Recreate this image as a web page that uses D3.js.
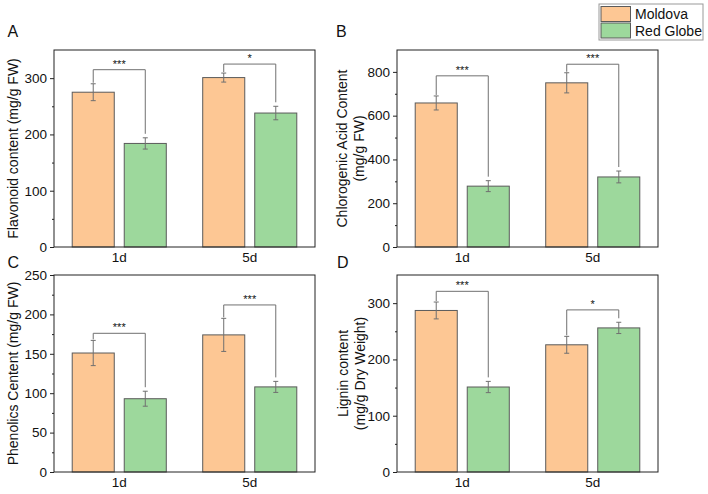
<!DOCTYPE html>
<html lang="en">
<head>
<meta charset="UTF-8">
<title>Grape phenolics</title>
<script src="https://d3js.org/d3.v7.min.js"></script>
<style>
  body { margin: 0; background: #fff; }
  svg text { font-family: Arial, "Liberation Sans", sans-serif; fill: #111; }
</style>
</head>
<body>
<svg width="708" height="494"></svg>
<script>
const days = ['1d', '5d'];
const cultivars = ['Moldova', 'Red Globe'];
const colors = ['#fdc794', '#9dd89c'];

// per panel: [Moldova 1d, 5d], [Red Globe 1d, 5d]
const flavMold = [275, 301], flavRed = [184, 238];
const flavMoldErr = [15, 8], flavRedErr = [10, 12];
const chloMold = [658, 750], chloRed = [278, 320];
const chloMoldErr = [32, 46], chloRedErr = [25, 27];
const phenMold = [151, 174], phenRed = [93, 108];
const phenMoldErr = [16, 21], phenRedErr = [9.5, 7];
const lignMold = [287, 226], lignRed = [151, 256];
const lignMoldErr = [15, 15], lignRedErr = [10, 10];

const flavSig = ['***', '*'], flavBracket = [315, 325];
const chloSig = ['***', '***'], chloBracket = [782, 835];
const phenSig = ['***', '***'], phenBracket = [176, 212];
const lignSig = ['***', '*'], lignBracket = [321, 288];

const panels = [
  { letter: 'A', label: ['Flavonoid content (mg/g FW)'], max: 350, major: 100, minor: 50,
    mold: flavMold, red: flavRed, moldErr: flavMoldErr, redErr: flavRedErr, sig: flavSig, br: flavBracket,
    x0: 54, y0: 50, lx: 18, ly: 37 },
  { letter: 'B', label: ['Chlorogenic Acid Content', '(mg/g FW)'], max: 900, major: 200, minor: 100,
    mold: chloMold, red: chloRed, moldErr: chloMoldErr, redErr: chloRedErr, sig: chloSig, br: chloBracket,
    x0: 397, y0: 50, lx: 346.5, ly: 37 },
  { letter: 'C', label: ['Phenolics Centent (mg/g FW)'], max: 250, major: 50, minor: 25,
    mold: phenMold, red: phenRed, moldErr: phenMoldErr, redErr: phenRedErr, sig: phenSig, br: phenBracket,
    x0: 54, y0: 275, lx: 18, ly: 268 },
  { letter: 'D', label: ['Lignin content', '(mg/g Dry Weight)'], max: 350, major: 100, minor: 50,
    mold: lignMold, red: lignRed, moldErr: lignMoldErr, redErr: lignRedErr, sig: lignSig, br: lignBracket,
    x0: 397, y0: 275, lx: 347.5, ly: 268 }
];

const svg = d3.select('svg');
const pw = 261, ph = 197;
const font = 'Arial, "Liberation Sans", sans-serif';

panels.forEach(p => {
  const g = svg.append('g');
  const x = d3.scaleBand().domain(days).range([p.x0, p.x0 + pw]).padding(0);
  const sub = d3.scaleBand().domain(cultivars).range([0, x.bandwidth()]).paddingInner(0.192).paddingOuter(0.35);
  const y = d3.scaleLinear().domain([0, p.max]).range([p.y0 + ph, p.y0]);

  const rows = [];
  days.forEach((d, i) => {
    rows.push({ day: d, cv: cultivars[0], v: p.mold[i], e: p.moldErr[i], c: colors[0] });
    rows.push({ day: d, cv: cultivars[1], v: p.red[i], e: p.redErr[i], c: colors[1] });
  });
  const cx = r => x(r.day) + sub(r.cv) + sub.bandwidth() / 2;

  g.selectAll('rect.bar').data(rows).join('rect')
    .attr('class', 'bar')
    .attr('x', r => x(r.day) + sub(r.cv))
    .attr('y', r => y(r.v))
    .attr('width', sub.bandwidth())
    .attr('height', r => y(0) - y(r.v))
    .attr('fill', r => r.c)
    .attr('stroke', '#5a5a5a')
    .attr('stroke-width', 1);

  // error bars
  const eb = g.selectAll('g.err').data(rows).join('g').attr('class', 'err')
    .attr('stroke', '#707070').attr('stroke-width', 1);
  eb.append('line').attr('x1', cx).attr('x2', cx)
    .attr('y1', r => y(r.v + r.e)).attr('y2', r => y(r.v - r.e));
  eb.append('line').attr('x1', r => cx(r) - 2.5).attr('x2', r => cx(r) + 2.5)
    .attr('y1', r => y(r.v + r.e)).attr('y2', r => y(r.v + r.e));
  eb.append('line').attr('x1', r => cx(r) - 2.5).attr('x2', r => cx(r) + 2.5)
    .attr('y1', r => y(r.v - r.e)).attr('y2', r => y(r.v - r.e));

  // significance brackets
  days.forEach((d, i) => {
    const a = rows[i * 2], b = rows[i * 2 + 1];
    const top = y(p.br[i]);
    g.append('path')
      .attr('d', `M${cx(a)},${y(a.v + a.e) - 1}V${top}H${cx(b)}V${y(b.v + b.e) - 4}`)
      .attr('fill', 'none').attr('stroke', '#707070').attr('stroke-width', 1);
    g.append('text')
      .attr('x', (cx(a) + cx(b)) / 2).attr('y', top - 2)
      .attr('text-anchor', 'middle').attr('font-size', 11)
      .text(p.sig[i]);
  });

  // axes
  const yAxis = g.append('g').attr('transform', `translate(${p.x0},0)`)
    .call(d3.axisLeft(y).tickValues(d3.range(0, p.max + 1, p.major)).tickSize(4).tickSizeOuter(0).tickPadding(3));
  yAxis.selectAll('text').attr('font-size', 13.5).style('font-family', font).attr('fill', '#111');
  yAxis.selectAll('line').attr('stroke', '#222');
  yAxis.select('.domain').remove();
  g.append('g').attr('transform', `translate(${p.x0},0)`)
    .call(d3.axisLeft(y).tickValues(d3.range(p.minor, p.max, p.major)).tickSize(2).tickFormat(''))
    .call(a => a.selectAll('line').attr('stroke', '#222'))
    .select('.domain').remove();

  const xAxis = g.append('g').attr('transform', `translate(0,${p.y0 + ph})`)
    .call(d3.axisBottom(x).tickSize(0).tickPadding(5));
  xAxis.selectAll('text').attr('font-size', 13.5).style('font-family', font).attr('fill', '#111');
  xAxis.select('.domain').remove();

  g.append('rect').attr('x', p.x0).attr('y', p.y0).attr('width', pw).attr('height', ph)
    .attr('fill', 'none').attr('stroke', '#222').attr('stroke-width', 1);

  // panel letter
  svg.append('text').attr('x', p.lx - 10.5).attr('y', p.ly).attr('font-size', 16).text(p.letter);

  // y label
  const cy = p.y0 + ph / 2;
  p.label.forEach((t, k) => {
    svg.append('text')
      .attr('transform', `translate(${p.lx + k * 17},${cy}) rotate(-90)`)
      .attr('text-anchor', 'middle').attr('font-size', 14).text(t);
  });
});

// legend
const leg = svg.append('g');
leg.append('rect').attr('x', 599).attr('y', 4).attr('width', 104).attr('height', 36)
  .attr('fill', '#fff').attr('stroke', '#999');
cultivars.forEach((c, i) => {
  leg.append('rect').attr('x', 601).attr('y', 6.5 + i * 16.5).attr('width', 29.5).attr('height', 15)
    .attr('fill', colors[i]).attr('stroke', '#5a5a5a');
  leg.append('text').attr('x', 635).attr('y', 19 + i * 16.5).attr('font-size', 14).text(c);
});
</script>
</body>
</html>
